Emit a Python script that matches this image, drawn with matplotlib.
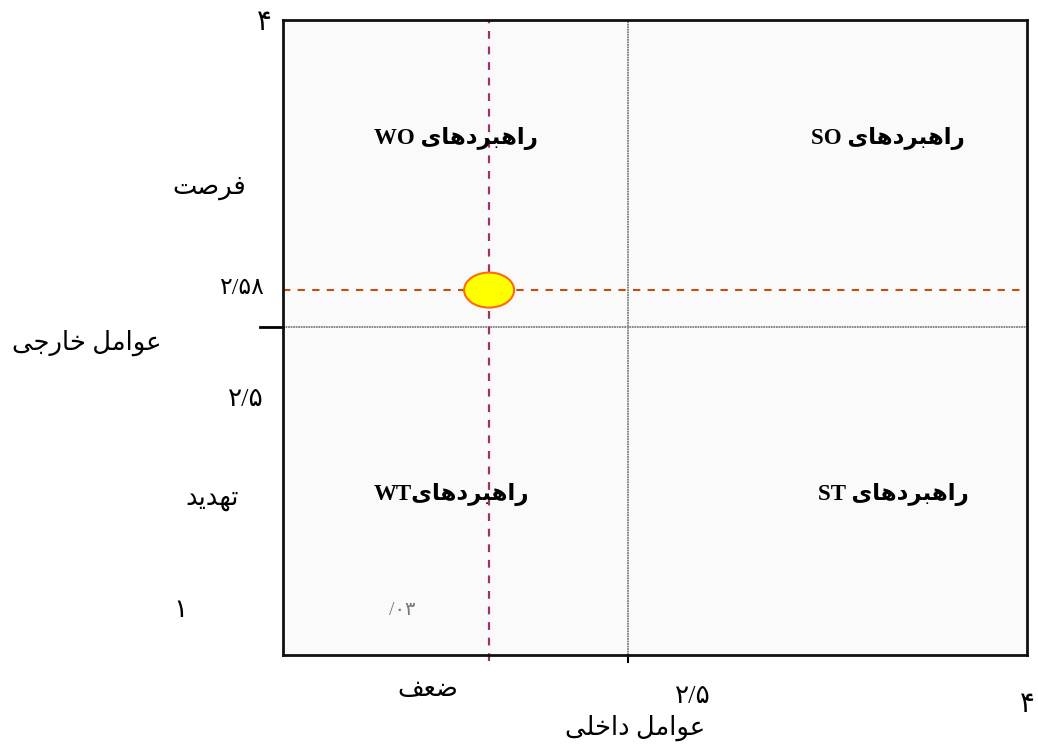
import matplotlib
matplotlib.use("Agg")
import matplotlib.pyplot as plt
from matplotlib.patches import Ellipse

# ---------------- data ----------------
mid_value = 2.5                 # boundary between quadrants (both axes)
point_x = 2.03                  # internal factors score
point_y = 2.58                  # external factors score
quadrant_labels = ["راهبردهای WO", "راهبردهای SO", "راهبردهایWT", "راهبردهای ST"]
y_tick_texts = ["۴", "فرصت", "۲/۵۸", "عوامل خارجی", "۲/۵", "تهدید", "۱"]
x_tick_texts = ["ضعف", "۲/۵", "عوامل داخلی", "۴"]
stray_text = "/۰۳"

# ---------------- minimal Persian shaping ----------------
FORMS = {  # iso, fin, ini, med
    'ا': ('\uFE8D', '\uFE8E', None, None),
    'ب': ('\uFE8F', '\uFE90', '\uFE91', '\uFE92'),
    'ت': ('\uFE95', '\uFE96', '\uFE97', '\uFE98'),
    'ج': ('\uFE9D', '\uFE9E', '\uFE9F', '\uFEA0'),
    'خ': ('\uFEA5', '\uFEA6', '\uFEA7', '\uFEA8'),
    'د': ('\uFEA9', '\uFEAA', None, None),
    'ر': ('\uFEAD', '\uFEAE', None, None),
    'ص': ('\uFEB9', '\uFEBA', '\uFEBB', '\uFEBC'),
    'ض': ('\uFEBD', '\uFEBE', '\uFEBF', '\uFEC0'),
    'ع': ('\uFEC9', '\uFECA', '\uFECB', '\uFECC'),
    'ف': ('\uFED1', '\uFED2', '\uFED3', '\uFED4'),
    'ل': ('\uFEDD', '\uFEDE', '\uFEDF', '\uFEE0'),
    'م': ('\uFEE1', '\uFEE2', '\uFEE3', '\uFEE4'),
    'ه': ('\uFEE9', '\uFEEA', '\uFEEB', '\uFEEC'),
    'و': ('\uFEED', '\uFEEE', None, None),
    'ی': ('\uFEEF', '\uFEF0', '\uFEF3', '\uFEF4'),
}


def shape(s):
    out = []
    for i, c in enumerate(s):
        if c not in FORMS:
            out.append(c)
            continue
        prev = s[i - 1] if i > 0 else ''
        nxt = s[i + 1] if i + 1 < len(s) else ''
        jp = prev in FORMS and FORMS[prev][2] is not None
        jn = FORMS[c][2] is not None and nxt in FORMS
        f = FORMS[c]
        if jp and jn:
            out.append(f[3])
        elif jp:
            out.append(f[1])
        elif jn:
            out.append(f[2])
        else:
            out.append(f[0])
    return ''.join(out)


def rtl(s):
    shaped = shape(s)
    runs = []
    for ch, orig in zip(shaped, s):
        kind = 'R' if (orig in FORMS or orig == ' ') else 'L'
        if runs and runs[-1][0] == kind:
            runs[-1][1].append(ch)
        else:
            runs.append([kind, [ch]])
    parts = []
    for kind, chars in reversed(runs):
        parts.append(''.join(reversed(chars)) if kind == 'R' else ''.join(chars))
    return ''.join(parts)


FAM = ['Liberation Serif', 'DejaVu Sans']

# ---------------- figure ----------------
W, H = 1038, 748
fig = plt.figure(figsize=(W / 100, H / 100), dpi=100)
ax = fig.add_axes([283 / W, 1 - 655 / H, 744 / W, 635 / H])
x0, x1 = 1.333, 3.849
y0, y1 = 1.791, 3.164
ax.set_xlim(x0, x1)
ax.set_ylim(y0, y1)
ax.set_facecolor('#fafafa')
for sp in ax.spines.values():
    sp.set_linewidth(2.0)
    sp.set_color('#111111')
ax.set_xticks([])
ax.set_yticks([])

# quadrant lines (gray inside, black tick outside)
ax.axvline(mid_value, color='#808080', lw=1.3, ls=(0, (1, 0.4)))
ax.axhline(mid_value, color='#808080', lw=1.3, ls=(0, (1, 0.4)))
ax.plot([mid_value, mid_value], [y0, y0 - 0.015], color='black', lw=1.5, clip_on=False)
ax.plot([x0 - 0.078, x0], [mid_value, mid_value], color='black', lw=2.0, clip_on=False)

# position dashed guides
ax.axhline(point_y, color='#c05010', lw=1.5, ls=(0, (3.5, 3.5)))
ax.plot([point_x, point_x], [y0 - 0.012, y1], color='#a0306a', lw=1.6,
        ls=(0, (3.5, 3.5)), clip_on=False)

ell = Ellipse((point_x, point_y), width=50 / 295.7, height=35 / 462.5,
              facecolor='#ffff00', edgecolor='#ff6a10', lw=1.5, zorder=5)
ax.add_patch(ell)

# quadrant labels
qpos = [(0.233, 0.814), (0.813, 0.814), (0.226, 0.252), (0.82, 0.252)]
for (qx, qy), lab in zip(qpos, quadrant_labels):
    ax.text(qx, qy, rtl(lab), transform=ax.transAxes, ha='center', va='center',
            fontsize=16.5, fontweight='bold', family=FAM)

ax.text(0.16, 0.07, rtl(stray_text), transform=ax.transAxes, ha='center',
        va='center', fontsize=14, color='#777777', family=FAM)

# y side texts (figure pixel placement)
ypos = [(264, 24, 20), (209, 188, 18.5), (241, 289, 17), (87, 343, 18.5),
        (246, 400, 19), (212, 500, 18.5), (180, 611, 19)]
for (px, py, fs), t in zip(ypos, y_tick_texts):
    fig.text(px / W, 1 - py / H, rtl(t), ha='center', va='center', fontsize=fs, family=FAM)

xpos = [(428, 690, 18.5), (693, 697, 19), (635, 728, 18.5), (1027, 706, 20)]
for (px, py, fs), t in zip(xpos, x_tick_texts):
    fig.text(px / W, 1 - py / H, rtl(t), ha='center', va='center', fontsize=fs, family=FAM)

fig.savefig('out.png', dpi=100, facecolor='white')
